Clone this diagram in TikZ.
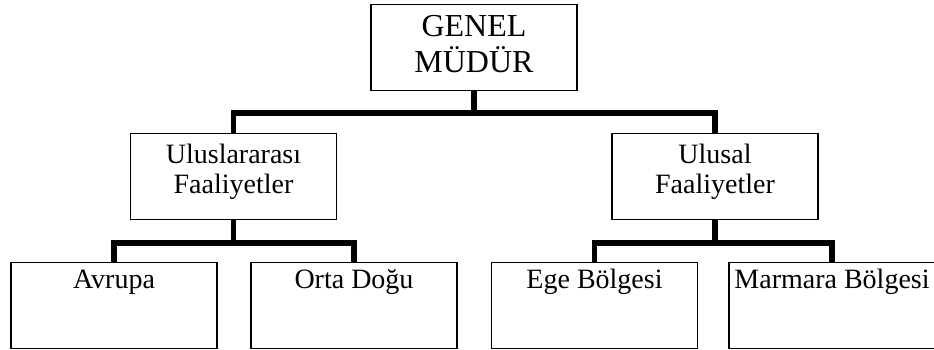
\documentclass[tikz,border=0pt]{standalone}
\usepackage{fontspec}
\setmainfont{Liberation Serif}
\begin{document}
\begin{tikzpicture}[x=1pt,y=-1pt,
		box/.style={draw,line width=1.2pt,minimum width=206pt,inner xsep=0pt,inner ysep=0pt,align=center,anchor=north,font=\fontsize{28}{30}\selectfont},
		chief/.style={box,font=\fontsize{32}{36}\selectfont,text height=68pt,text depth=18pt},
		dept/.style={box,text height=60pt,text depth=26pt},
		region/.style={box,text height=26pt,text depth=60pt},
		link/.style={line width=5.5pt}]
	\useasboundingbox (0,0) rectangle (934,349);
	% boxes
	\node[chief] (genel) at (474,4) {GENEL\\MÜDÜR};
	\node[dept] (intl) at (233.5,133) {Uluslararası\\Faaliyetler};
	\node[dept] (natl) at (715,133) {Ulusal\\Faaliyetler};
	\node[region] (avrupa) at (114,262) {Avrupa};
	\node[region] (ortadogu) at (354,262) {Orta Doğu};
	\node[region] (ege) at (594.5,262) {Ege Bölgesi};
	\node[region] (marmara) at (832,262) {Marmara Bölgesi};
	% connectors
	\draw[link] (genel.south) -- (genel.south |- 0,113) coordinate (tophub);
	\draw[link] (intl.north) |- (tophub) -| (natl.north);
	\draw[link] (intl.south) -- (intl.south |- 0,243) coordinate (lefthub);
	\draw[link] (avrupa.north) |- (lefthub) -| (ortadogu.north);
	\draw[link] (natl.south) -- (natl.south |- 0,243) coordinate (righthub);
	\draw[link] (ege.north) |- (righthub) -| (marmara.north);
\end{tikzpicture}
\end{document}
